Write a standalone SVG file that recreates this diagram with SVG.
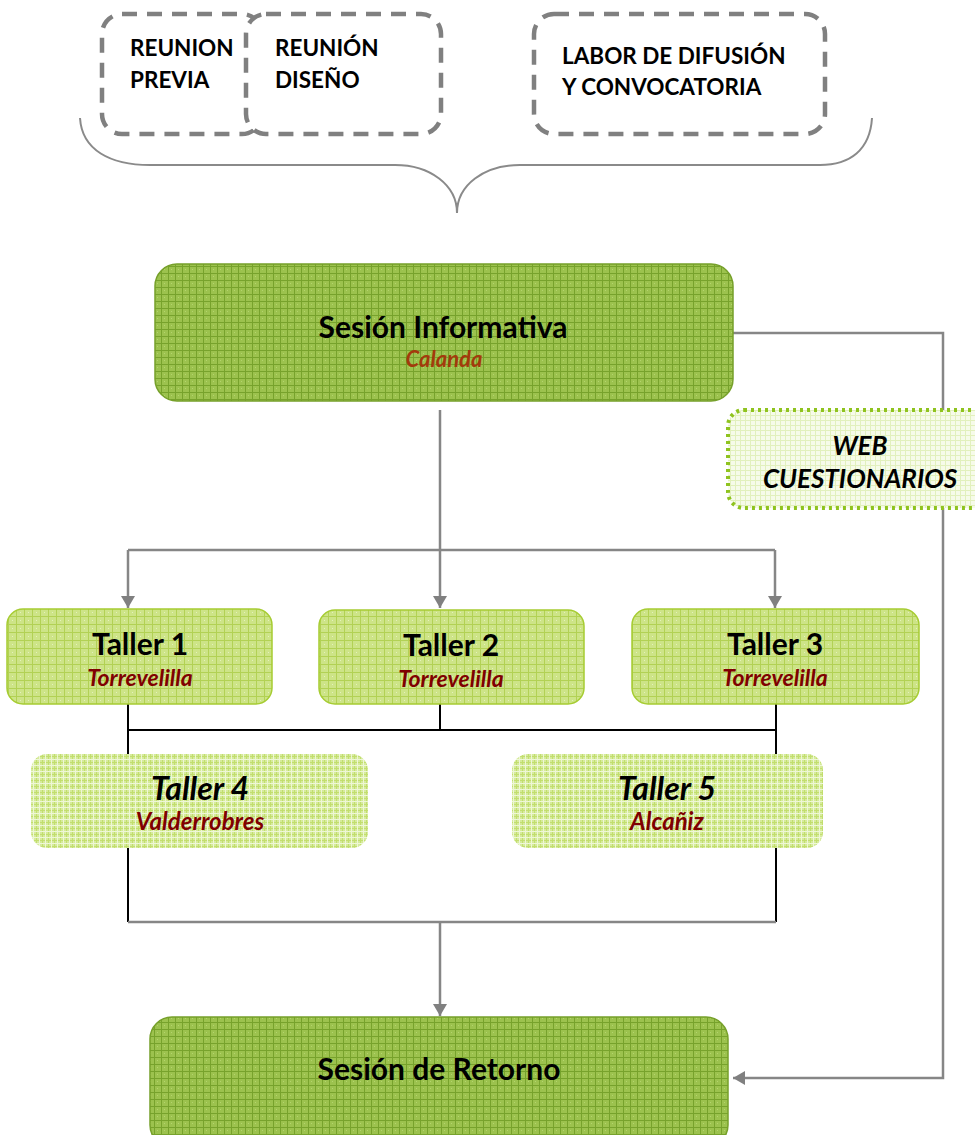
<svg xmlns="http://www.w3.org/2000/svg" width="975" height="1135" viewBox="0 0 975 1135">
<defs>
<pattern id="pDark" width="7" height="7" patternUnits="userSpaceOnUse">
<rect width="7" height="7" fill="#9cc24e"/>
<path d="M0 0.5H7M0.5 0V7" stroke="#77a22c" stroke-width="1"/>
<rect x="3" y="3" width="1" height="1" fill="#b4d46e"/>
</pattern>
<pattern id="pLight" width="8" height="8" patternUnits="userSpaceOnUse">
<rect width="8" height="8" fill="#cde487"/>
<path d="M0 0.5H8M0.5 0V8" stroke="#b2d154" stroke-width="1"/>
<rect x="4" y="4" width="1" height="1" fill="#e4f1bb"/>
</pattern>
<pattern id="pPale" width="6" height="6" patternUnits="userSpaceOnUse">
<rect width="6" height="6" fill="#d6eb9c"/>
<path d="M0 0.5H6M0.5 0V6" stroke="#c2de6e" stroke-width="1"/>
<path d="M0 3.5H6M3.5 0V6" stroke="#eef7d6" stroke-width="1"/>
</pattern>
<pattern id="pWeb" width="5" height="5" patternUnits="userSpaceOnUse">
<rect width="5" height="5" fill="#f6fbe9"/>
<path d="M0 0.5H5M0.5 0V5" stroke="#e2f0bd" stroke-width="1"/>
</pattern>
<marker id="arr" viewBox="0 0 12 14" refX="12" refY="7" markerWidth="12" markerHeight="14" markerUnits="userSpaceOnUse" orient="auto">
<path d="M0 0L12 7L0 14Z" fill="#808080"/>
</marker>
</defs>
<style>
.dash{fill:#fff;stroke:#808080;stroke-width:4.5;stroke-dasharray:15 10}
.cap{font-family:Lato,"Open Sans",sans-serif;font-weight:bold;font-size:22.5px;fill:#000}
.title{font-family:Lato,"Open Sans",sans-serif;font-weight:bold;font-size:30px;fill:#000;text-anchor:middle}
.it{font-style:italic}
.sub{font-family:Lato,"Open Sans",sans-serif;font-weight:bold;font-style:italic;font-size:23px;fill:#7f0000;text-anchor:middle}
.gl{fill:none;stroke:#868686;stroke-width:2.5}
.bl{fill:none;stroke:#000;stroke-width:2}
.brace{fill:none;stroke:#8a8a8a;stroke-width:2}
</style>

<g id="brace">
<path class="brace" d="M80 118 C 82 150, 110 165, 150 165 L 395 165 C 430 165, 457 185, 457 213 C 457 185, 484 165, 520 165 L 820 165 C 850 165, 870 150, 872 118"/>
</g>

<g id="reunion-previa">
<rect class="dash" x="102" y="14" width="160" height="120" rx="20"/>
<text class="cap" x="130" y="56">REUNION</text>
<text class="cap" x="130" y="88">PREVIA</text>
</g>
<g id="reunion-diseno">
<rect class="dash" x="246" y="14" width="195" height="120" rx="20"/>
<text class="cap" x="275" y="56">REUNIÓN</text>
<text class="cap" x="275" y="88">DISEÑO</text>
</g>
<g id="labor-difusion">
<rect class="dash" x="534" y="14" width="291" height="120" rx="20"/>
<text class="cap" x="562" y="64">LABOR DE DIFUSIÓN</text>
<text class="cap" x="562" y="95">Y CONVOCATORIA</text>
</g>

<g id="connectors">
<path class="gl" d="M733 333 H943 V1078 H733" marker-end="url(#arr)"/>
<path class="gl" d="M440 410 V608" marker-end="url(#arr)"/>
<path class="gl" d="M128 550 H775"/>
<path class="gl" d="M128 550 V608" marker-end="url(#arr)"/>
<path class="gl" d="M775 550 V608" marker-end="url(#arr)"/>
<path class="bl" d="M128 704 V922"/>
<path class="bl" d="M440 704 V730"/>
<path class="bl" d="M776 704 V922"/>
<path class="bl" d="M128 730 H776"/>
<path class="gl" d="M128 922 H776"/>
<path class="gl" d="M440 922 V1016" marker-end="url(#arr)"/>
</g>

<g id="sesion-informativa">
<rect x="155" y="264" width="578" height="137" rx="22" fill="url(#pDark)" stroke="#76a02a" stroke-width="1.5"/>
<text class="title" x="443" y="338">Sesión Informativa</text>
<text class="sub" x="444" y="367" style="fill:#a33a0c;font-size:22px">Calanda</text>
</g>

<g id="web-cuestionarios">
<rect x="728" y="410" width="270" height="98" rx="16" fill="url(#pWeb)" stroke="#8fc31f" stroke-width="4" stroke-dasharray="3 4"/>
<text class="title it" x="860" y="455" style="font-size:26px">WEB</text>
<text class="title it" x="860" y="488" style="font-size:26px">CUESTIONARIOS</text>
</g>

<g id="taller1">
<rect x="7" y="609" width="265" height="95" rx="16" fill="url(#pLight)" stroke="#a6cc32" stroke-width="1.5"/>
<text class="title" x="140" y="655">Taller 1</text>
<text class="sub" x="140" y="686">Torrevelilla</text>
</g>
<g id="taller2">
<rect x="319" y="610" width="265" height="94" rx="16" fill="url(#pLight)" stroke="#a6cc32" stroke-width="1.5"/>
<text class="title" x="451" y="656">Taller 2</text>
<text class="sub" x="451" y="687">Torrevelilla</text>
</g>
<g id="taller3">
<rect x="632" y="609" width="287" height="95" rx="16" fill="url(#pLight)" stroke="#a6cc32" stroke-width="1.5"/>
<text class="title" x="775" y="655">Taller 3</text>
<text class="sub" x="775" y="686">Torrevelilla</text>
</g>
<g id="taller4">
<rect x="31" y="754" width="337" height="94" rx="16" fill="url(#pPale)"/>
<text class="title it" x="200" y="800" style="font-size:32px">Taller 4</text>
<text class="sub" x="200" y="830" style="font-size:24px">Valderrobres</text>
</g>
<g id="taller5">
<rect x="512" y="754" width="311" height="94" rx="16" fill="url(#pPale)"/>
<text class="title it" x="667" y="800" style="font-size:32px">Taller 5</text>
<text class="sub" x="667" y="830" style="font-size:24px">Alcañiz</text>
</g>

<g id="sesion-retorno">
<rect x="150" y="1017" width="578" height="130" rx="22" fill="url(#pDark)" stroke="#76a02a" stroke-width="1.5"/>
<text class="title" x="439" y="1080">Sesión de Retorno</text>
</g>
</svg>
